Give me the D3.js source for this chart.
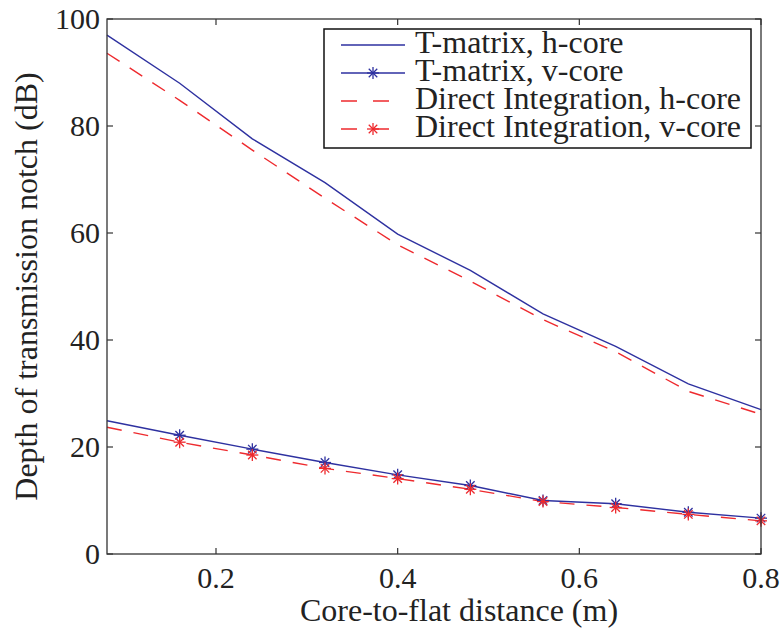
<!DOCTYPE html>
<html>
<head>
<meta charset="utf-8">
<script src="https://cdn.jsdelivr.net/npm/d3@7"></script>
<style>
  body { margin: 0; background: #fff; }
  #chart { width: 782px; height: 639px; }
  text { font-family: "Liberation Serif", "Times New Roman", serif; fill: #222; }
</style>
</head>
<body>
<div id="chart"></div>
<script>
// values
const distance = [0.08, 0.16, 0.24, 0.32, 0.40, 0.48, 0.56, 0.64, 0.72, 0.80];
const tmatrixH = [97.0, 88.0, 77.6, 69.4, 59.8, 53.0, 44.9, 38.8, 31.8, 27.0];
const tmatrixV = [24.9, 22.2, 19.6, 17.1, 14.8, 12.8, 10.0, 9.4, 7.8, 6.7];
const directH = [93.6, 84.8, 75.5, 66.5, 57.8, 51.0, 43.8, 37.8, 30.4, 26.1];
const directV = [23.7, 20.9, 18.5, 16.0, 14.1, 12.1, 9.8, 8.7, 7.4, 6.2];
const xTicks = [0.2, 0.4, 0.6, 0.8];
const yTicks = [0, 20, 40, 60, 80, 100];

const width = 782;
const height = 639;
const margin = { top: 19, left: 107, right: 21, bottom: 85 };

const blue = "#2e31a0";
const red = "#ee2a2e";

const svg = d3.select("#chart")
    .append("svg")
    .attr("width", width)
    .attr("height", height);

const x = d3.scaleLinear()
    .domain([0.08, 0.8])
    .range([margin.left, width - margin.right]);

const y = d3.scaleLinear()
    .domain([0, 100])
    .range([height - margin.bottom, margin.top]);

const series = [
    { name: "T-matrix, h-core", values: tmatrixH, color: blue, dash: null, marker: false },
    { name: "T-matrix, v-core", values: tmatrixV, color: blue, dash: null, marker: true },
    { name: "Direct Integration, h-core", values: directH, color: red, dash: "15,12", marker: false },
    { name: "Direct Integration, v-core", values: directV, color: red, dash: "15,12", marker: true }
];

// asterisk marker: plus + cross
function asterisk(g, cx, cy, r, color) {
    const d = r * Math.SQRT1_2;
    const segs = [[-r, 0, r, 0], [0, -r, 0, r], [-d, -d, d, d], [-d, d, d, -d]];
    g.append("g")
        .attr("stroke", color)
        .attr("stroke-width", 1.3)
        .selectAll("line")
        .data(segs)
        .join("line")
        .attr("x1", s => cx + s[0])
        .attr("y1", s => cy + s[1])
        .attr("x2", s => cx + s[2])
        .attr("y2", s => cy + s[3]);
}

const line = d3.line()
    .x((d, i) => x(distance[i]))
    .y(d => y(d));

const plot = svg.append("g");

series.forEach(s => {
    plot.append("path")
        .datum(s.values)
        .attr("fill", "none")
        .attr("stroke", s.color)
        .attr("stroke-width", 1.4)
        .attr("stroke-dasharray", s.dash)
        .attr("d", line);
});

// markers (none drawn at the first point)
series.filter(s => s.marker).forEach(s => {
    s.values.forEach((v, i) => {
        if (i === 0) return;
        asterisk(plot, x(distance[i]), y(v), 6, s.color);
    });
});

// axes box
const axisColor = "#333";
const x0 = x.range()[0], x1 = x.range()[1];
const y0 = y.range()[0], y1 = y.range()[1];

svg.append("rect")
    .attr("x", x0)
    .attr("y", y1)
    .attr("width", x1 - x0)
    .attr("height", y0 - y1)
    .attr("fill", "none")
    .attr("stroke", axisColor)
    .attr("stroke-width", 1.3);

const tickLen = 6;
const ticks = svg.append("g").attr("stroke", axisColor).attr("stroke-width", 1.2);
xTicks.forEach(t => {
    ticks.append("line").attr("x1", x(t)).attr("x2", x(t)).attr("y1", y0).attr("y2", y0 - tickLen);
    ticks.append("line").attr("x1", x(t)).attr("x2", x(t)).attr("y1", y1).attr("y2", y1 + tickLen);
});
yTicks.forEach(t => {
    ticks.append("line").attr("x1", x0).attr("x2", x0 + tickLen).attr("y1", y(t)).attr("y2", y(t));
    ticks.append("line").attr("x1", x1).attr("x2", x1 - tickLen).attr("y1", y(t)).attr("y2", y(t));
});

svg.append("g")
    .selectAll("text")
    .data(xTicks)
    .join("text")
    .attr("x", d => x(d))
    .attr("y", y0 + 34)
    .attr("text-anchor", "middle")
    .style("font-size", "30px")
    .text(d => d3.format(".1f")(d));

svg.append("g")
    .selectAll("text")
    .data(yTicks)
    .join("text")
    .attr("x", x0 - 7)
    .attr("y", d => y(d) + 10)
    .attr("text-anchor", "end")
    .style("font-size", "30px")
    .text(d => d);

// axis titles
svg.append("text")
    .attr("x", 459)
    .attr("y", 621)
    .attr("text-anchor", "middle")
    .style("font-size", "32px")
    .text("Core-to-flat distance (m)");

svg.append("text")
    .attr("transform", `translate(37, ${(y0 + y1) / 2}) rotate(-90)`)
    .attr("text-anchor", "middle")
    .style("font-size", "32px")
    .text("Depth of transmission notch (dB)");

// legend
const legend = svg.append("g");
legend.append("rect")
    .attr("x", 324)
    .attr("y", 29)
    .attr("width", 427)
    .attr("height", 119)
    .attr("fill", "#fff")
    .attr("stroke", "#111")
    .attr("stroke-width", 1.5);

series.forEach((s, i) => {
    const ly = 45 + i * 28;
    legend.append("line")
        .attr("x1", 341)
        .attr("x2", 405)
        .attr("y1", ly)
        .attr("y2", ly)
        .attr("stroke", s.color)
        .attr("stroke-width", 1.4)
        .attr("stroke-dasharray", s.dash ? "16,16" : null);
    if (s.marker) asterisk(legend, 373, ly, 6, s.color);
    legend.append("text")
        .attr("x", 415)
        .attr("y", ly + 8)
        .style("font-size", "32px")
        .text(s.name);
});
</script>
</body>
</html>
